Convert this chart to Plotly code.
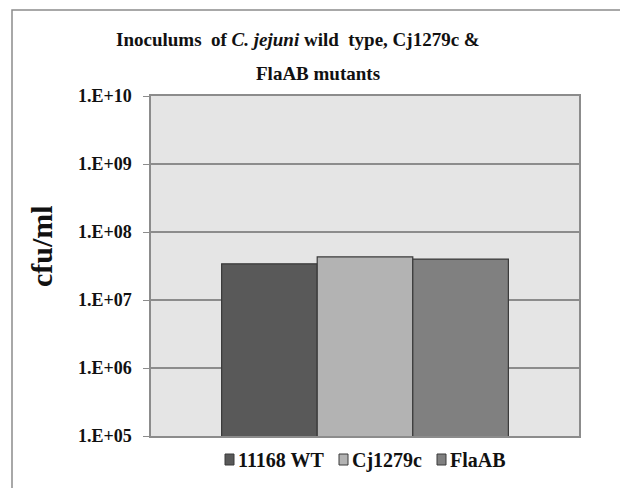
import plotly.graph_objects as go

strains = ["11168 WT", "Cj1279c", "FlaAB"]
cfu = [3.4e7, 4.3e7, 4.0e7]
colors = ["#595959", "#b3b3b3", "#808080"]
tick_vals = [1e5, 1e6, 1e7, 1e8, 1e9, 1e10]
tick_text = ["1.E+05", "1.E+06", "1.E+07", "1.E+08", "1.E+09", "1.E+10"]
category = [""]

FONT = "Liberation Serif"
INK = "#111"

# plot-area pixel frame helpers (layout only)
L, R, T, B = 151, 579, 96, 436
def px_x(px):
    return (px - L) / (R - L)
def px_y(py):
    return (B - py) / (B - T)

fig = go.Figure()
for name, val, col in zip(strains, cfu, colors):
    fig.add_trace(go.Bar(
        x=category, y=[val], name=name,
        marker=dict(color=col, line=dict(color="#3a3a3a", width=1.2)),
    ))

fig.update_layout(
    width=620, height=488,
    margin=dict(l=L, r=620 - R, t=T, b=488 - B),
    paper_bgcolor="white",
    plot_bgcolor="#e5e5e5",
    barmode="group",
    bargap=0.33,
    bargroupgap=0,
    showlegend=False,
    font=dict(family=FONT, color=INK, weight=700),
)

fig.update_xaxes(
    showticklabels=False, showgrid=False, zeroline=False,
    showline=True, linecolor="#8c8c8c", linewidth=1.5, mirror=True,
    range=[-0.5, 0.5],
)
fig.update_yaxes(
    type="log", range=[5, 10],
    tickvals=tick_vals, ticktext=tick_text,
    tickfont=dict(family=FONT, size=18, color=INK, weight=700),
    ticks="outside", ticklen=6, tickcolor="#8c8c8c", tickwidth=1.2,
    ticklabelstandoff=8,
    showgrid=True, gridcolor="#8c8c8c", gridwidth=1.5,
    showline=True, linecolor="#8c8c8c", linewidth=1.5, mirror=True,
    zeroline=False,
)

# title (two lines)
fig.add_annotation(
    xref="paper", yref="paper", x=px_x(298), y=px_y(40),
    text="Inoculums  of <i>C. jejuni</i> wild  type, Cj1279c &",
    showarrow=False, font=dict(family=FONT, size=19, color=INK, weight=700),
    xanchor="center", yanchor="middle",
)
fig.add_annotation(
    xref="paper", yref="paper", x=px_x(318), y=px_y(73),
    text="FlaAB mutants",
    showarrow=False, font=dict(family=FONT, size=19, color=INK, weight=700),
    xanchor="center", yanchor="middle",
)
# y axis title
fig.add_annotation(
    xref="paper", yref="paper", x=px_x(41), y=px_y(246),
    text="cfu/ml", textangle=-90,
    showarrow=False, font=dict(family=FONT, size=30, color=INK, weight=700),
    xanchor="center", yanchor="middle",
)

# legend (square swatch + label for each series)
swatch_left = [225, 339, 437]
for name, col, sx in zip(strains, colors, swatch_left):
    fig.add_shape(
        type="rect", xref="paper", yref="paper",
        x0=px_x(sx), x1=px_x(sx + 9), y0=px_y(465), y1=px_y(454),
        line=dict(color="#3a3a3a", width=1), fillcolor=col,
    )
    fig.add_annotation(
        xref="paper", yref="paper", x=px_x(sx + 12), y=px_y(460),
        text=name, showarrow=False,
        font=dict(family=FONT, size=20, color=INK, weight=700),
        xanchor="left", yanchor="middle", borderpad=0,
    )

# outer chart border (left/top visible)
fig.add_shape(
    type="rect", xref="paper", yref="paper",
    x0=px_x(12), x1=1.5, y0=-0.5, y1=px_y(10),
    line=dict(color="#8c8c8c", width=1.5), fillcolor="rgba(0,0,0,0)", layer="below",
)

fig.write_html("out.html")
